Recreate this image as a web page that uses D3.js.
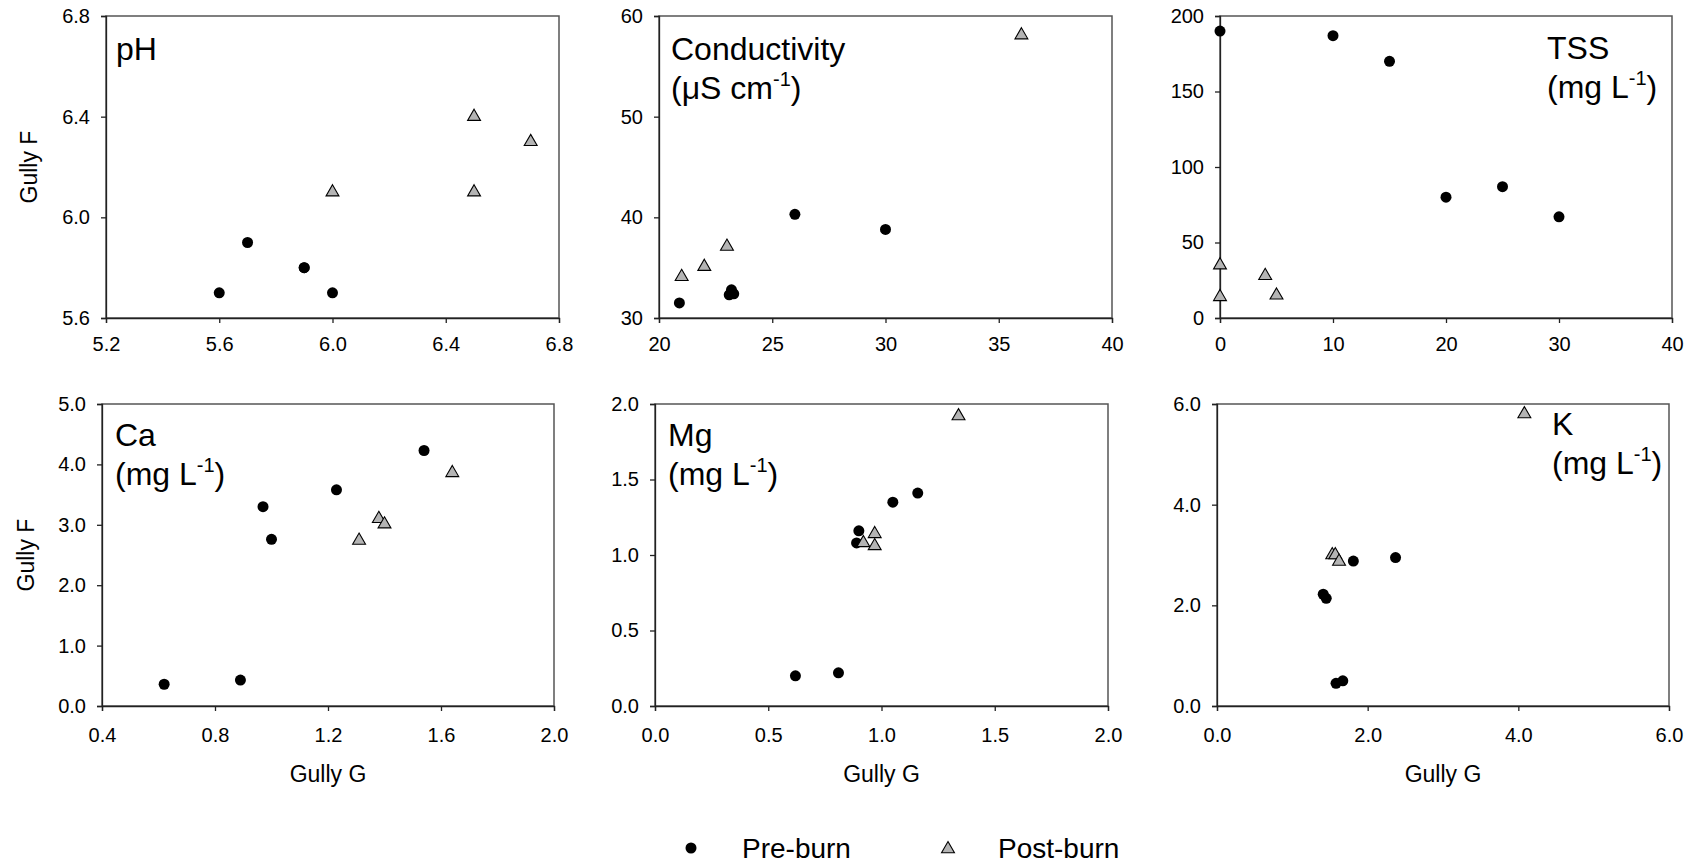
<!DOCTYPE html>
<html>
<head>
<meta charset="utf-8">
<script src="https://cdn.jsdelivr.net/npm/d3@7"></script>
<style>
  body { margin: 0; background: #fff; }
  svg { font-family: 'Liberation Sans', Arial, sans-serif; }
</style>
</head>
<body>
<svg id="chart" width="1695" height="865"></svg>
<script>
// Values, [Gully G, Gully F]
const phPre = [[5.6, 5.7], [5.7, 5.9], [5.9, 5.8], [5.9, 5.8], [6.0, 5.7]];
const phPost = [[6.0, 6.1], [6.5, 6.4], [6.5, 6.1], [6.7, 6.3]];
const condPre = [[20.9, 31.5], [23.2, 32.8], [23.3, 32.4], [23.1, 32.3], [26.0, 40.3], [30.0, 38.8]];
const condPost = [[21, 34.1], [22, 35.1], [23, 37.1], [36, 58.1]];
const tssPre = [[0, 190], [10, 187], [15, 170], [20, 80], [25, 87], [30, 67]];
const tssPost = [[0, 35], [0, 14], [4, 28], [5, 15]];
const caPre = [[0.62, 0.36], [0.89, 0.43], [0.97, 3.30], [1.0, 2.76], [1.23, 3.58], [1.54, 4.23]];
const caPost = [[1.31, 2.74], [1.38, 3.10], [1.40, 3.01], [1.64, 3.86]];
const mgPre = [[0.62, 0.20], [0.81, 0.22], [0.90, 1.16], [0.89, 1.08], [1.05, 1.35], [1.16, 1.41]];
const mgPost = [[0.92, 1.08], [0.97, 1.14], [0.97, 1.06], [1.34, 1.92]];
const kPre = [[1.41, 2.22], [1.45, 2.14], [1.58, 0.45], [1.67, 0.50], [1.81, 2.88], [2.37, 2.95]];
const kPost = [[1.53, 3.0], [1.57, 3.0], [1.62, 2.87], [4.08, 5.8]];

// Axis domains and tick values
const xDomains = [[5.2, 6.8], [20, 40], [0, 40], [0.4, 2.0], [0, 2.0], [0, 6.0]];
const yDomains = [[5.6, 6.8], [30, 60], [0, 200], [0, 5.0], [0, 2.0], [0, 6.0]];
const xTicks = [[5.2, 5.6, 6.0, 6.4, 6.8], [20, 25, 30, 35, 40], [0, 10, 20, 30, 40],
  [0.4, 0.8, 1.2, 1.6, 2.0], [0, 0.5, 1.0, 1.5, 2.0], [0, 2, 4, 6]];
const yTicks = [[5.6, 6.0, 6.4, 6.8], [30, 40, 50, 60], [0, 50, 100, 150, 200],
  [0, 1, 2, 3, 4, 5], [0, 0.5, 1.0, 1.5, 2.0], [0, 2, 4, 6]];
const xFormats = ['.1f', 'd', 'd', '.1f', '.1f', '.1f'];
const yFormats = ['.1f', 'd', 'd', '.1f', '.1f', '.1f'];

// Panel labels: [name, unit or null]
const labels = [['pH', null], ['Conductivity', ['(\u03bcS cm', ')']], ['TSS', ['(mg L', ')']],
  ['Ca', ['(mg L', ')']], ['Mg', ['(mg L', ')']], ['K', ['(mg L', ')']]];
const seriesNames = ['Pre-burn', 'Post-burn'];

const pre = [phPre, condPre, tssPre, caPre, mgPre, kPre];
const post = [phPost, condPost, tssPost, caPost, mgPost, kPost];

// Panel frames (page pixels) and label anchors
const frames = [
  { left: 106, right: 559, top: 16, bottom: 318, lx: 116, ly: 60 },
  { left: 659, right: 1112, top: 16, bottom: 318, lx: 671, ly: 60 },
  { left: 1220, right: 1672, top: 16, bottom: 318, lx: 1547, ly: 59 },
  { left: 102, right: 554, top: 404, bottom: 706, lx: 115, ly: 446 },
  { left: 655, right: 1108, top: 404, bottom: 706, lx: 668, ly: 446 },
  { left: 1217, right: 1669, top: 404, bottom: 706, lx: 1552, ly: 435 }
];

const svg = d3.select('#chart');
const triangle = d3.symbol().type(d3.symbolTriangle).size(72);
const triFill = '#b4b4b4';

frames.forEach((f, i) => {
  const x = d3.scaleLinear().domain(xDomains[i]).range([f.left, f.right]);
  const y = d3.scaleLinear().domain(yDomains[i]).range([f.bottom, f.top]);
  const g = svg.append('g').attr('class', 'panel');

  // frame
  g.append('rect')
    .attr('x', f.left).attr('y', f.top)
    .attr('width', f.right - f.left).attr('height', f.bottom - f.top)
    .attr('fill', 'none').attr('stroke', '#555').attr('stroke-width', 1.5);

  const bottomRow = i >= 3;
  const xAxis = g.append('g')
    .attr('transform', `translate(0,${f.bottom})`)
    .call(d3.axisBottom(x).tickValues(xTicks[i]).tickFormat(d3.format(xFormats[i]))
      .tickSize(5).tickPadding(bottomRow ? 17 : 14));
  const yAxis = g.append('g')
    .attr('transform', `translate(${f.left},0)`)
    .call(d3.axisLeft(y).tickValues(yTicks[i]).tickFormat(d3.format(yFormats[i]))
      .tickSize(5).tickPadding(11));

  [xAxis, yAxis].forEach(a => {
    a.select('.domain').attr('stroke', '#222').attr('stroke-width', 1.3);
    a.selectAll('.tick line').attr('stroke', '#222').attr('stroke-width', 1.3);
    a.selectAll('.tick text').attr('font-size', 20).attr('fill', '#000')
      .attr('font-family', "'Liberation Sans', Arial, sans-serif");
  });

  // points: pre-burn circles under post-burn triangles
  g.selectAll('circle.pre').data(pre[i]).join('circle')
    .attr('class', 'pre')
    .attr('cx', d => x(d[0])).attr('cy', d => y(d[1]))
    .attr('r', 5.5).attr('fill', '#000');
  g.selectAll('path.post').data(post[i]).join('path')
    .attr('class', 'post')
    .attr('d', triangle)
    .attr('transform', d => `translate(${x(d[0])},${y(d[1])})`)
    .attr('fill', triFill).attr('stroke', '#000').attr('stroke-width', 1.1);

  // panel label
  const lab = labels[i];
  g.append('text').attr('x', f.lx).attr('y', f.ly)
    .attr('font-size', 32).text(lab[0]);
  if (lab[1]) {
    const t = g.append('text').attr('x', f.lx).attr('y', f.ly + 39).attr('font-size', 32);
    t.append('tspan').text(lab[1][0]);
    t.append('tspan').attr('font-size', 20).attr('dy', -13).text('-1');
    t.append('tspan').attr('dy', 13).text(lab[1][1]);
  }

  // axis titles
  if (i % 3 === 0) {
    const cy = (f.top + f.bottom) / 2;
    g.append('text')
      .attr('transform', `translate(${bottomRow ? 34 : 37},${cy}) rotate(-90)`)
      .attr('text-anchor', 'middle').attr('font-size', 23).text('Gully F');
  }
  if (bottomRow) {
    g.append('text')
      .attr('x', (f.left + f.right) / 2).attr('y', 782)
      .attr('text-anchor', 'middle').attr('font-size', 23).text('Gully G');
  }
});

// legend
const legend = svg.append('g').attr('class', 'legend');
legend.append('circle').attr('cx', 691).attr('cy', 848).attr('r', 5.5).attr('fill', '#000');
legend.append('text').attr('x', 742).attr('y', 858).attr('font-size', 28).text(seriesNames[0]);
legend.append('path').attr('d', triangle)
  .attr('transform', 'translate(948,849)')
  .attr('fill', triFill).attr('stroke', '#000').attr('stroke-width', 1.1);
legend.append('text').attr('x', 998).attr('y', 858).attr('font-size', 28).text(seriesNames[1]);
</script>
</body>
</html>
